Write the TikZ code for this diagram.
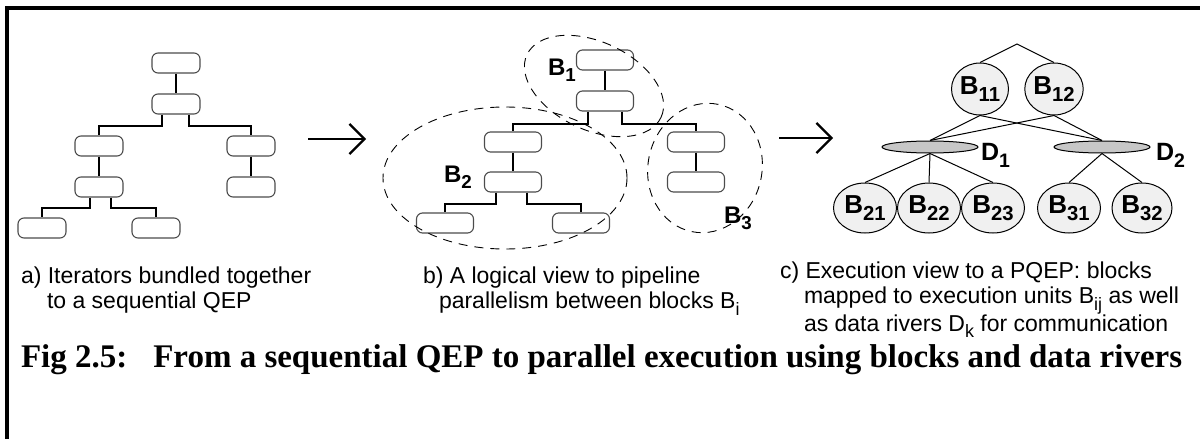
\documentclass[tikz,border=0pt]{standalone}
\usepackage{fontspec}
\usepackage{graphicx}
\setmainfont{Liberation Sans}
\newfontfamily\figfont{Liberation Serif}
\usetikzlibrary{shapes.geometric,arrows.meta}

\newcommand{\lowidx}[1]{\raisebox{-.28em}{\scalebox{.78}{#1}}}

\begin{document}
\begin{tikzpicture}[x=1pt, y=-1pt, line width=2pt,
  itr/.style={draw=black!70, line width=1.1pt, rounded corners=6pt, minimum width=48pt, minimum height=20pt, inner sep=0pt},
  itrb/.style={itr, minimum width=57pt},
  grp/.style={draw, line width=0.9pt, dash pattern=on 9pt off 7pt},
  blk/.style={ellipse, draw, fill=black!6, line width=1pt, inner sep=0pt, minimum width=57pt, minimum height=52pt, font=\fontsize{26}{26}\selectfont\bfseries},
  bblk/.style={blk, minimum width=63pt, minimum height=50pt},
  riv/.style={ellipse, draw, fill=black!22, line width=1pt, inner sep=0pt, minimum width=96pt, minimum height=12pt},
  lbl/.style={inner sep=0pt, font=\fontsize{24}{24}\selectfont\bfseries},
  captxt/.style={anchor=north west, inner sep=0pt, align=left, font=\fontsize{23}{25}\selectfont},
  link/.style={line width=1pt},
  nextarr/.style={-{Straight Barb[length=15pt,width=30pt]}, line width=2.2pt}]

  \useasboundingbox (0,0) rectangle (1200,439);
  \draw[line width=4pt] (7,439) -- (7,8) -- (1200,8);

  % a) sequential QEP
  \node[itr] (a1) at (176,63) {};
  \node[itr] (a2) at (176,104) {};
  \node[itr] (a3) at (99,146) {};
  \node[itr] (a4) at (251,146) {};
  \node[itr] (a5) at (99,187) {};
  \node[itr] (a6) at (251,187) {};
  \node[itr] (a7) at (42,228) {};
  \node[itr] (a8) at (156,228) {};
  \draw (a1) -- (a2);
  \draw ([xshift=-14pt]a2.south) -- ++(0,11) -| (a3.north);
  \draw ([xshift=13pt]a2.south) -- ++(0,11) -| (a4.north);
  \draw (a3) -- (a5);
  \draw (a4) -- (a6);
  \draw ([xshift=-9pt]a5.south) -- ++(0,10) -| (a7.north);
  \draw ([xshift=12pt]a5.south) -- ++(0,10) -| (a8.north);

  \coordinate (ar1s) at (308,139);
  \coordinate (ar1e) at (366,139);
  \draw[nextarr] (ar1s) -- (ar1e);

  % b) blocks
  \node[itrb] (b1) at (605,60) {};
  \node[itrb] (b2) at (605,101) {};
  \node[itrb] (b3) at (513,142) {};
  \node[itrb] (b4) at (696,142) {};
  \node[itrb] (b5) at (513,182) {};
  \node[itrb] (b6) at (696,182) {};
  \node[itrb] (b7) at (445,223) {};
  \node[itrb] (b8) at (581,223) {};
  \draw (b1) -- (b2);
  \draw ([xshift=-17pt]b2.south) -- ++(0,12) -| (b3.north);
  \draw ([xshift=17pt]b2.south) -- ++(0,12) -| (b4.north);
  \draw (b3) -- (b5);
  \draw (b4) -- (b6);
  \draw ([xshift=-17pt]b5.south) -- ++(0,11) -| (b7.north);
  \draw ([xshift=14pt]b5.south) -- ++(0,11) -| (b8.north);

  \draw[grp, shift={(594,86)}, rotate=-25] (0,0) ellipse [x radius=74pt, y radius=44pt];
  \draw[grp] (505,178) ellipse [x radius=122pt, y radius=71pt];
  \draw[grp, shift={(705,168)}, rotate=-12] (0,0) ellipse [x radius=57pt, y radius=65pt];
  \node[lbl, anchor=base west] (g1) at (547,75) {B\lowidx{1}};
  \node[lbl, anchor=base west] (g2) at (443,182) {B\lowidx{2}};
  \node[lbl, anchor=base west] (g3) at (723,223) {B\lowidx{3}};

  \coordinate (ar2s) at (779,138);
  \coordinate (ar2e) at (833,138);
  \draw[nextarr] (ar2s) -- (ar2e);

  % c) execution units and data rivers
  \coordinate (top) at (1017,44);
  \node[blk] (u11) at (980,89) {B\lowidx{11}};
  \node[blk] (u12) at (1054,89) {B\lowidx{12}};
  \node[riv] (d1) at (930,147) {};
  \node[riv] (d2) at (1102,147) {};
  \node[lbl, anchor=base west, font=\fontsize{25}{25}\selectfont\bfseries] (d1l) at (980,160) {D\lowidx{1}};
  \node[lbl, anchor=base west, font=\fontsize{25}{25}\selectfont\bfseries] (d2l) at (1155,160) {D\lowidx{2}};
  \node[bblk] (u21) at (865,208) {B\lowidx{21}};
  \node[bblk] (u22) at (929,208) {B\lowidx{22}};
  \node[bblk] (u23) at (993,208) {B\lowidx{23}};
  \node[bblk] (u31) at (1069,208) {B\lowidx{31}};
  \node[bblk, minimum width=60pt] (u32) at (1142,208) {B\lowidx{32}};
  \draw[link] (u11.north) -- (top) -- (u12.north);
  \draw[link] (u11.south) -- (d1.north);
  \draw[link] (u11.south) -- (d2.north);
  \draw[link] (u12.south) -- (d1.north);
  \draw[link] (u12.south) -- (d2.north);
  \draw[link] (d1.south) -- (u21.north);
  \draw[link] (d1.south) -- (u22.north);
  \draw[link] (d1.south) -- (u23.north);
  \draw[link] (d2.south) -- (u31.north);
  \draw[link] (d2.south) -- (u32.north);

  % captions
  \node[captxt] (capa) at (20,266) {a) Iterators bundled together\\\hspace*{26pt}to a sequential QEP};
  \node[captxt] (capb) at (422,266) {b) A logical view to pipeline\\\hspace*{16pt}parallelism between blocks B\lowidx{i}};
  \node[captxt] (capc) at (779,261) {c) Execution view to a PQEP: blocks\\\hspace*{24pt}mapped to execution units B\lowidx{ij} as well\\\hspace*{24pt}as data rivers D\lowidx{k} for communication};
  \node[anchor=base west, inner sep=0pt, font=\figfont\bfseries\fontsize{33}{33}\selectfont] (title) at (20,367) {Fig 2.5:\hspace{26pt}From a sequential QEP to parallel execution using blocks and data rivers};
\end{tikzpicture}
\end{document}
